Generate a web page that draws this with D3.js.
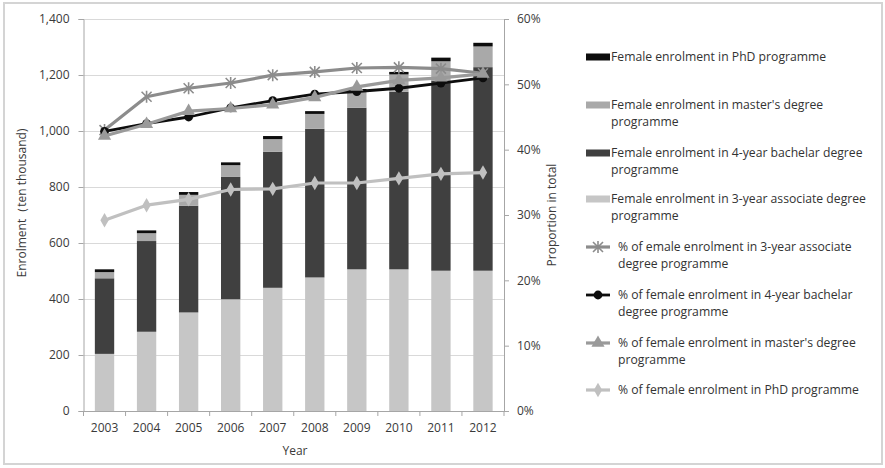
<!DOCTYPE html>
<html>
<head>
<meta charset="utf-8">
<script src="https://cdn.jsdelivr.net/npm/d3@7"></script>
<style>
  html, body { margin: 0; padding: 0; background: #fff; }
  svg { display: block; font-family: "Open Sans", "DejaVu Sans", sans-serif; }
</style>
</head>
<body>
<svg id="chart" width="885" height="468"></svg>
<script>
// Years on the category axis
const years = ["2003", "2004", "2005", "2006", "2007", "2008", "2009", "2010", "2011", "2012"];

// Female enrolment by programme (ten thousand), stacked bottom to top
const associateEnrol = [204, 283, 352, 399, 440, 477, 506, 506, 501, 501];
const bachelorEnrol  = [270, 324, 381, 437, 486, 531, 577, 634, 679, 727];
const masterEnrol    = [22, 28, 39, 42, 45, 53, 56, 62, 69, 74];
const phdEnrol       = [10, 10, 10, 10, 11, 10, 11, 9, 13, 13];

// Female share of enrolment in each programme (%)
const pctAssociate = [43.0, 48.1, 49.4, 50.2, 51.4, 51.9, 52.5, 52.6, 52.4, 51.7];
const pctBachelor  = [42.8, 44.0, 45.0, 46.4, 47.5, 48.5, 48.9, 49.4, 50.2, 51.0];
const pctMaster    = [42.1, 43.9, 45.9, 46.3, 46.9, 48.0, 49.6, 50.6, 51.0, 51.6];
const pctPhd       = [29.2, 31.5, 32.4, 33.9, 34.0, 34.9, 34.9, 35.6, 36.3, 36.5];

// Axis ticks
const leftTicks  = [0, 200, 400, 600, 800, 1000, 1200, 1400];
const rightTicks = [0, 10, 20, 30, 40, 50, 60];

// Legend labels
const barLegend = [
  ["Female enrolment in PhD programme"],
  ["Female enrolment in master's degree", "programme"],
  ["Female enrolment in 4-year bachelar degree", "programme"],
  ["Female enrolment in 3-year associate degree", "programme"]
];
const lineLegend = [
  ["% of emale enrolment in 3-year associate", "degree programme"],
  ["% of female enrolment in 4-year bachelar", "degree programme"],
  ["% of female enrolment in master's degree", "programme"],
  ["% of female enrolment in PhD programme"]
];

const svg = d3.select("#chart");
const plotL = 83.5, plotR = 504, plotT = 19, plotB = 411;
const textCol = "#3a3a3a";

// Outer frame
svg.append("rect").attr("x", 4).attr("y", 3).attr("width", 878).attr("height", 461)
  .attr("fill", "#fff").attr("stroke", "#d4d4d4").attr("stroke-width", 2);

const x = d3.scaleBand().domain(years).range([plotL, plotR]).paddingInner(0.54).paddingOuter(0.27);
const yL = d3.scaleLinear().domain([0, 1400]).range([plotB, plotT]);
const yR = d3.scaleLinear().domain([0, 60]).range([plotB, plotT]);
const cx = d => x(d) + x.bandwidth() / 2;

// Gridlines
svg.append("g").selectAll("line").data(leftTicks.filter(d => d > 0)).join("line")
  .attr("x1", plotL).attr("x2", plotR)
  .attr("y1", d => yL(d) + 0.5).attr("y2", d => yL(d) + 0.5)
  .attr("stroke", "#d9d9d9").attr("stroke-width", 1);

// Left axis
const axL = svg.append("g").attr("transform", `translate(${plotL},0)`)
  .call(d3.axisLeft(yL).tickValues(leftTicks).tickSize(5).tickPadding(9).tickFormat(d3.format(",")));
// Right axis
const axR = svg.append("g").attr("transform", `translate(${plotR},0)`)
  .call(d3.axisRight(yR).tickValues(rightTicks).tickSize(5).tickPadding(8).tickFormat(d => d + "%"));
// Bottom axis
const axB = svg.append("g").attr("transform", `translate(0,${plotB})`)
  .call(d3.axisBottom(x).tickSize(0).tickPadding(12));
// Tick marks at category boundaries
svg.append("g").selectAll("line").data(d3.range(years.length + 1)).join("line")
  .attr("x1", i => plotL + i * x.step()).attr("x2", i => plotL + i * x.step())
  .attr("y1", plotB).attr("y2", plotB + 5)
  .attr("stroke", "#a6a6a6");

[axL, axR, axB].forEach(a => {
  a.select(".domain").attr("stroke", "#a6a6a6");
  a.selectAll(".tick line").attr("stroke", "#a6a6a6");
  a.selectAll("text").attr("fill", textCol).style("font-size", "12px")
    .style("font-family", '"Open Sans", sans-serif');
});

// Stacked bars
const rows = years.map((yr, i) => ({
  year: yr, associate: associateEnrol[i], bachelor: bachelorEnrol[i],
  master: masterEnrol[i], phd: phdEnrol[i]
}));
const keys = ["associate", "bachelor", "master", "phd"];
const barColor = { associate: "#c6c6c6", bachelor: "#404040", master: "#a9a9a9", phd: "#0d0d0d" };
const stacked = d3.stack().keys(keys)(rows);
svg.append("g").selectAll("g").data(stacked).join("g")
  .attr("fill", s => barColor[s.key])
  .selectAll("rect").data(s => s).join("rect")
  .attr("x", d => x(d.data.year)).attr("width", x.bandwidth())
  .attr("y", d => yL(d[1])).attr("height", d => yL(d[0]) - yL(d[1]));

// Markers
const asterisk = "M-5,-5L5,5M-5,5L5,-5M0,-6L0,6";
function drawMarker(g, type, color) {
  if (type === "asterisk") {
    g.append("path").attr("d", asterisk).attr("stroke", color).attr("stroke-width", 1.6).attr("fill", "none");
  } else if (type === "circle") {
    g.append("circle").attr("r", 4.4).attr("fill", color);
  } else if (type === "triangle") {
    g.append("path").attr("d", d3.symbol(d3.symbolTriangle, 75)()).attr("fill", color);
  } else if (type === "diamond") {
    g.append("path").attr("d", d3.symbol(d3.symbolDiamond, 60)()).attr("fill", color);
  }
}

const lineSeries = [
  { values: pctAssociate, color: "#8c8c8c", width: 3.2, marker: "asterisk" },
  { values: pctBachelor,  color: "#0d0d0d", width: 2.8, marker: "circle" },
  { values: pctMaster,    color: "#9a9a9a", width: 3.2, marker: "triangle" },
  { values: pctPhd,       color: "#c0c0c0", width: 3.2, marker: "diamond" }
];
const line = d3.line().x((d, i) => cx(years[i])).y(d => yR(d));
lineSeries.forEach(s => {
  const g = svg.append("g");
  g.append("path").datum(s.values).attr("d", line)
    .attr("fill", "none").attr("stroke", s.color).attr("stroke-width", s.width)
    .attr("stroke-linejoin", "round");
  s.values.forEach((v, i) => {
    const m = g.append("g").attr("transform", `translate(${cx(years[i])},${yR(v)})`);
    drawMarker(m, s.marker, s.color);
  });
});

// Axis titles
svg.append("text").attr("transform", "translate(26,203) rotate(-90)")
  .attr("text-anchor", "middle").attr("fill", textCol).style("font-size", "12px")
  .text("Enrolment（ten thousand)");
svg.append("text").attr("transform", "translate(556,215) rotate(-90)")
  .attr("text-anchor", "middle").attr("fill", textCol).style("font-size", "12px")
  .text("Proportion in total");
svg.append("text").attr("x", 295).attr("y", 455)
  .attr("text-anchor", "middle").attr("fill", textCol).style("font-size", "12px")
  .text("Year");

// Legend
const legend = svg.append("g").style("font-size", "12.2px").attr("fill", "#333");
const barLegendY = [57, 105, 153, 199];
const barLegendKeys = ["phd", "master", "bachelor", "associate"];
barLegend.forEach((lines, i) => {
  const y0 = barLegendY[i];
  legend.append("rect").attr("x", 586).attr("y", y0 - 3.5).attr("width", 24).attr("height", 7)
    .attr("fill", barColor[barLegendKeys[i]]);
  lines.forEach((t, j) => legend.append("text").attr("x", 611).attr("y", y0 + 4 + j * 16.5).text(t));
});
const lineLegendY = [247, 295, 343, 390];
lineLegend.forEach((lines, i) => {
  const s = lineSeries[i];
  const y0 = lineLegendY[i];
  legend.append("line").attr("x1", 586).attr("x2", 610).attr("y1", y0).attr("y2", y0)
    .attr("stroke", s.color).attr("stroke-width", s.width);
  const m = legend.append("g").attr("transform", `translate(598,${y0})`);
  drawMarker(m, s.marker, s.color);
  lines.forEach((t, j) => legend.append("text").attr("x", 618).attr("y", y0 + 4 + j * 16.5).text(t));
});
</script>
</body>
</html>
